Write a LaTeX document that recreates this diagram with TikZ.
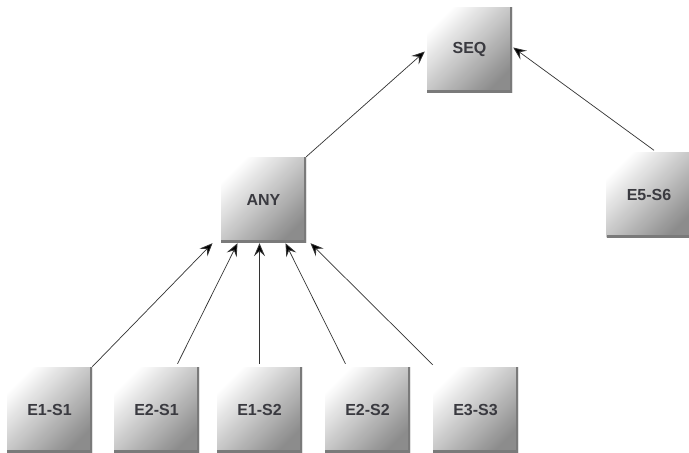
\documentclass[tikz,border=0pt]{standalone}
\usepackage{fontspec}
\setmainfont{Liberation Sans}
\usetikzlibrary{arrows.meta}
\definecolor{txt}{HTML}{3A3A40}
\definecolor{bevel}{HTML}{7A7A7A}
\tikzset{
  box/.style={minimum width=85pt, minimum height=85pt, inner sep=0pt,
    top color=white, bottom color=black!45, shading angle=45,
    font=\fontsize{16}{16}\selectfont\bfseries, text=txt,
    path picture={\draw[bevel, line width=5pt]
      (path picture bounding box.north east) -- (path picture bounding box.south east)
      -- (path picture bounding box.south west);}},
  conn/.style={draw=black!80, line width=0.7pt, -{Stealth[length=13pt,width=11pt,inset=5pt,fill=black,line width=0.8pt]}}
}
\begin{document}
\begin{tikzpicture}[x=1pt,y=-1pt]
\useasboundingbox[fill=white] (0,0) rectangle (689,453);
\node[box] (seq) at (469.5,49.5) {SEQ};
\node[box] (any) at (263.5,199.5) {ANY};
\node[box] (e56) at (649,195) {E5-S6};
\node[box] (e11) at (49.5,409.5) {E1-S1};
\node[box] (e21) at (156.5,409.5) {E2-S1};
\node[box] (e12) at (259.5,409.5) {E1-S2};
\node[box] (e22) at (367.5,409.5) {E2-S2};
\node[box] (e33) at (475.5,409.5) {E3-S3};
\draw[conn] (e11.north east) -- ([xshift=-51pt,yshift=-1pt]any.south);
\draw[conn] ([xshift=21pt,yshift=3pt]e21.north) -- ([xshift=-26pt,yshift=-1pt]any.south);
\draw[conn] ([yshift=3pt]e12.north) -- ([xshift=-4pt,yshift=-1pt]any.south);
\draw[conn] ([xshift=-22pt,yshift=3pt]e22.north) -- ([xshift=22pt,yshift=-1pt]any.south);
\draw[conn] ([yshift=2pt]e33.north west) -- ([xshift=47pt,yshift=-1pt]any.south);
\draw[conn] (any.north east) -- ([xshift=-2pt,yshift=-2pt]seq.west);
\draw[conn] ([xshift=5pt,yshift=2pt]e56.north) -- ([xshift=1pt,yshift=2pt]seq.east);
\end{tikzpicture}
\end{document}
